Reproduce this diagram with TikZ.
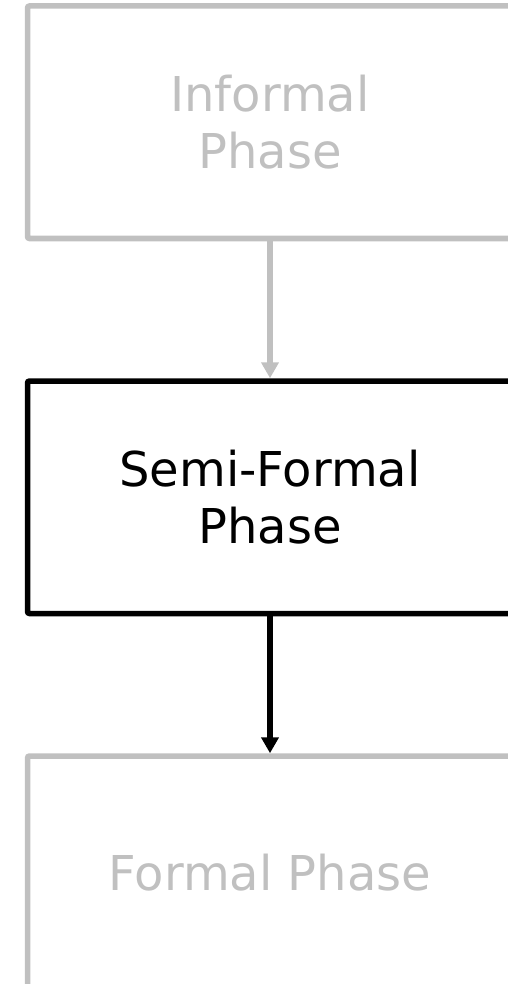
\documentclass[tikz,border=0pt]{standalone}
\usepackage{fontspec}
\setmainfont{DejaVu Sans}
\usetikzlibrary{positioning,arrows.meta}
\definecolor{faded}{HTML}{C0C0C0}

\begin{document}
\begin{tikzpicture}[x=1pt, y=-1pt, node distance={137pt}, line width=5.5pt,
    phase/.style = {draw, rectangle, rounded corners=2pt, minimum width=485pt, minimum height=232.5pt, align=center, font=\fontsize{48}{57}\selectfont},
    idle/.style = {phase, draw=faded, text=faded},
    flow/.style = {-{Triangle[length=16pt,width=17pt]}}]
    \useasboundingbox (0,0) rectangle (508,984);
    \node[idle] (informal) at (270,122.25) {Informal\\Phase};
    \node[phase] (semi) [below=of informal] {Semi-Formal\\Phase};
    \node[idle] (formal) [below=of semi] {Formal Phase};
    \draw[flow, faded] (informal) -- (semi);
    \draw[flow] (semi) -- (formal);
\end{tikzpicture}
\end{document}
